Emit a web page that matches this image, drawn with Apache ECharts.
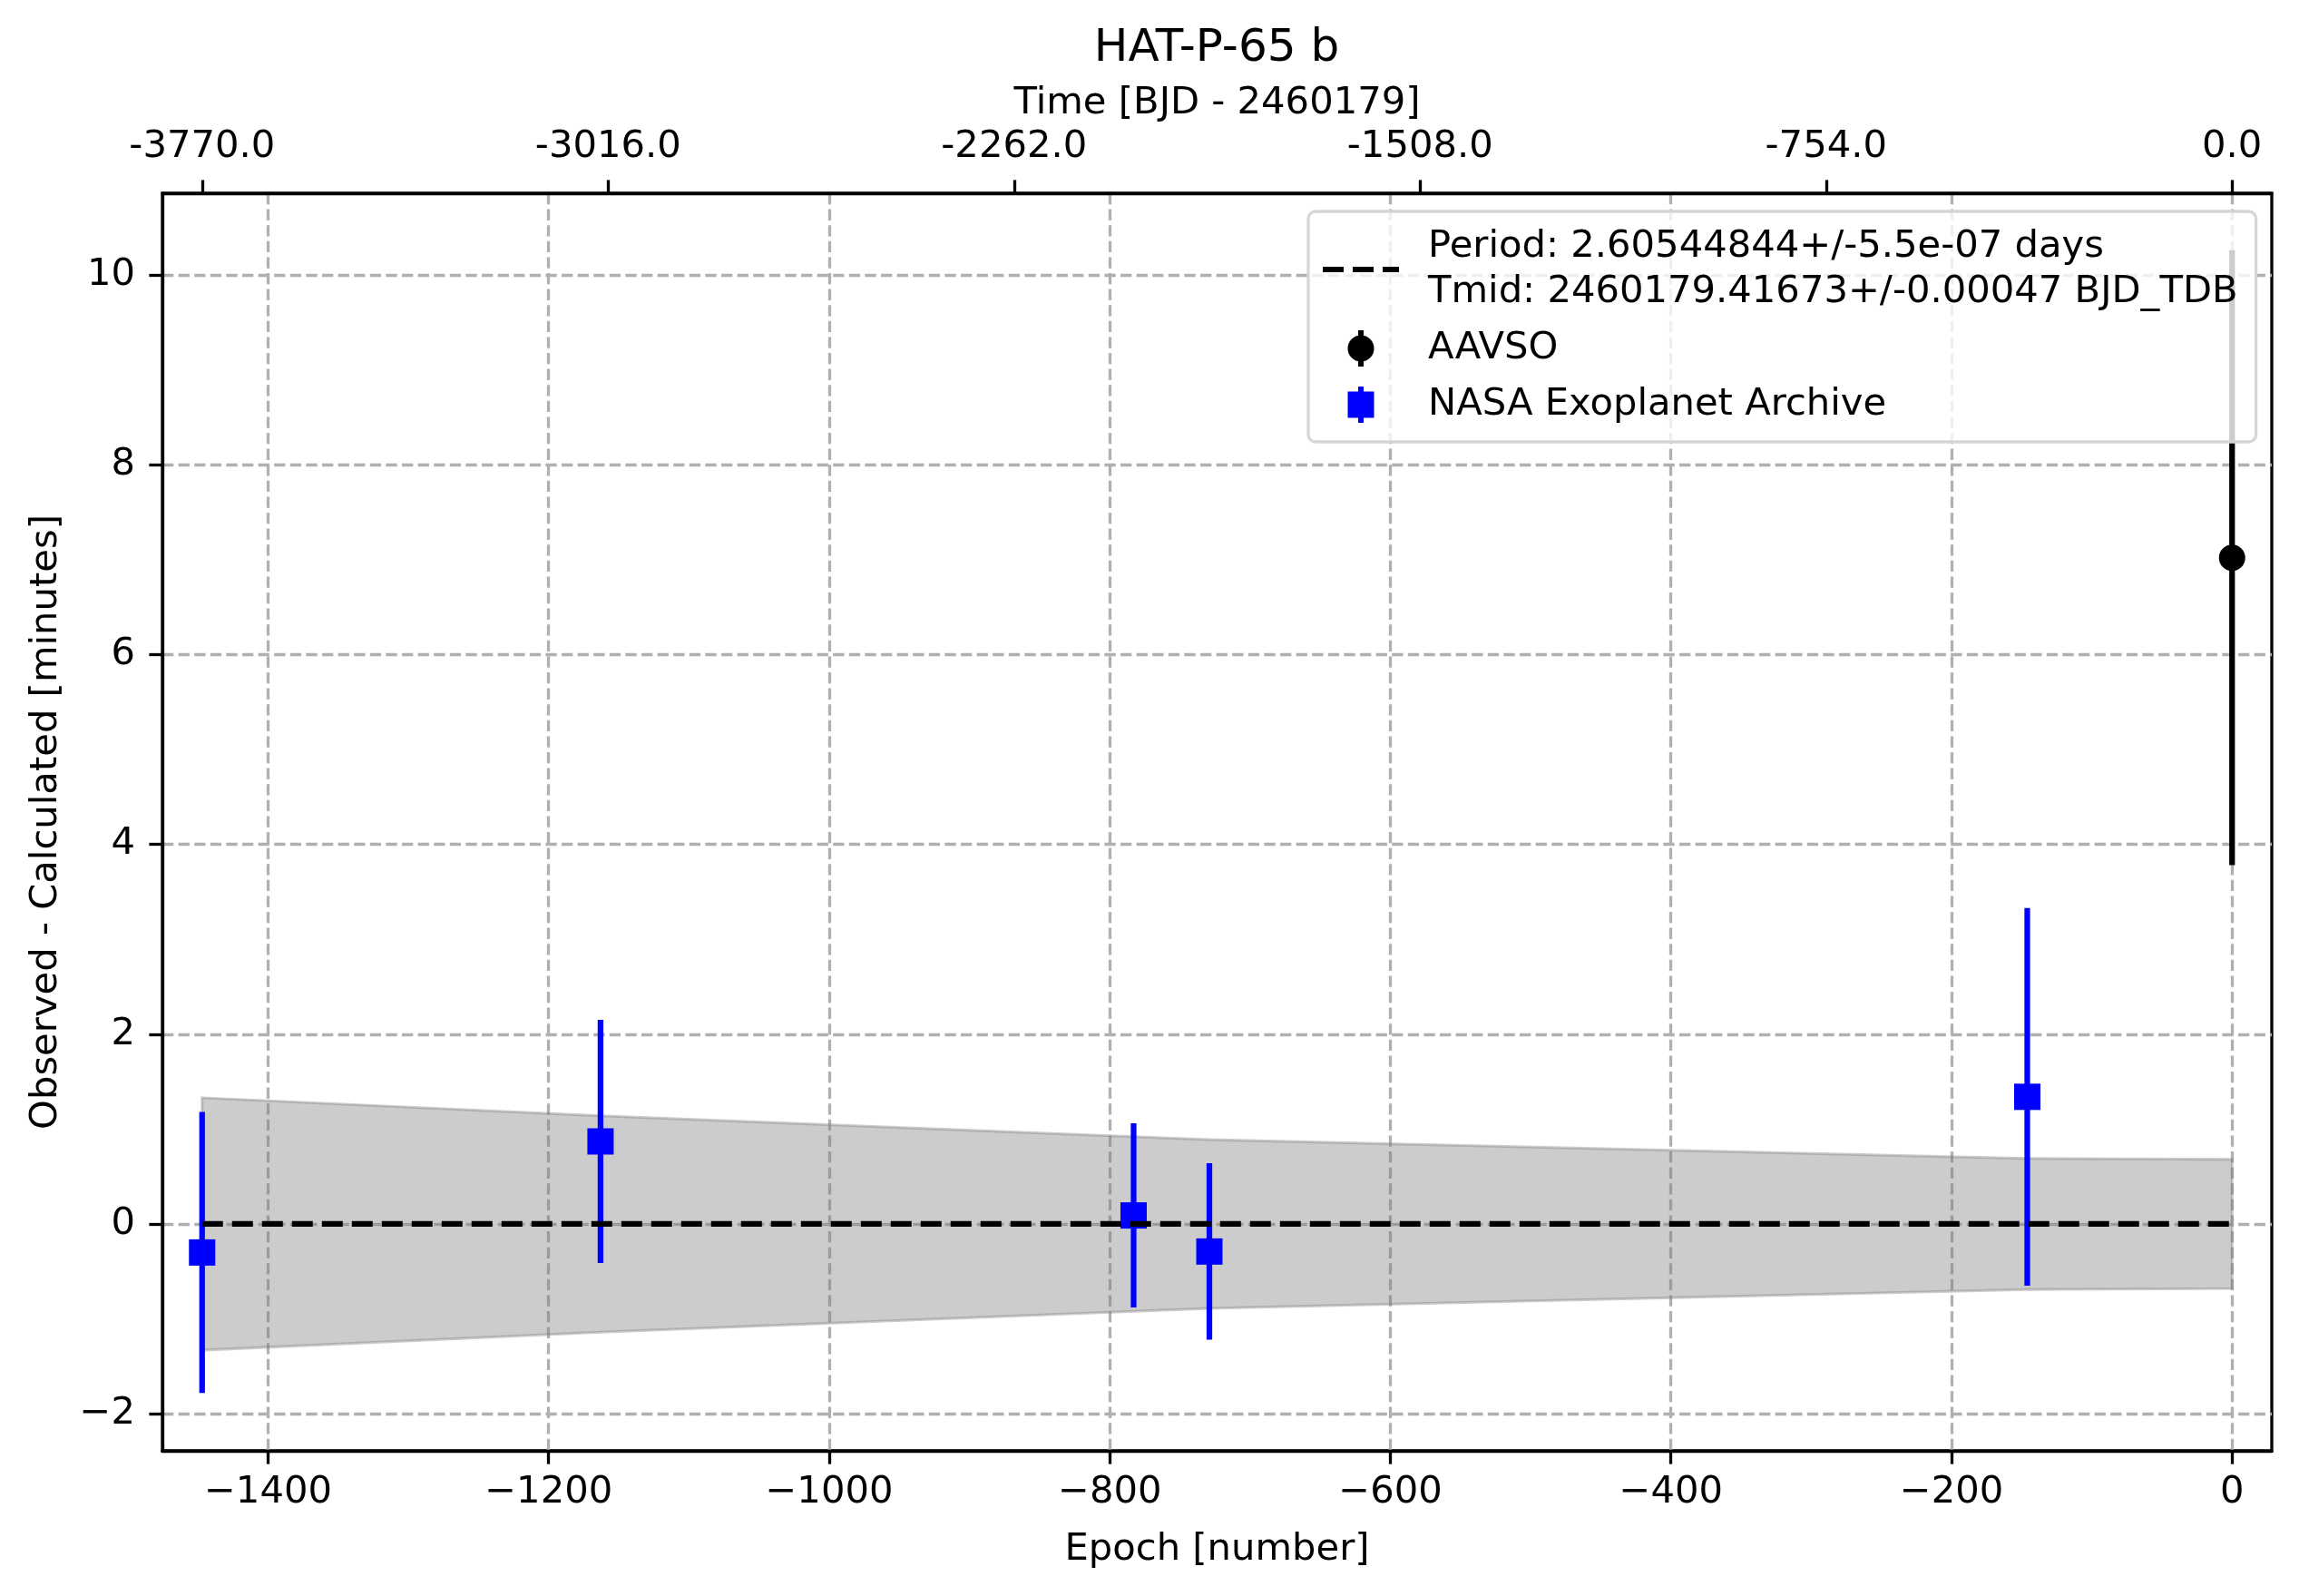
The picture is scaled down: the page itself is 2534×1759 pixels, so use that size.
<!DOCTYPE html>
<html>
<head>
<meta charset="utf-8">
<title>HAT-P-65 b</title>
<script src="https://cdn.jsdelivr.net/npm/echarts@6/dist/echarts.min.js"></script>
<style>
    html, body { margin: 0; padding: 0; background: #fff; }
    #main { width: 2534px; height: 1759px; }
</style>
</head>
<body>
<div id="main"></div>
<script>
// values
var period = 2.60544844; // days, for the top time axis
var nasaEpochs = [-1447, -1163, -783, -729, -146];
var nasaOC = [-0.30, 0.87, 0.09, -0.29, 1.34];
var nasaErr = [1.48, 1.28, 0.97, 0.93, 1.99];
var aavsoEpochs = [0];
var aavsoOC = [7.02];
var aavsoErr = [3.24];
// grey band = ephemeris uncertainty, edges read at each epoch
var bandEpochs = [-1447, -1163, -783, -729, -146, 0];
var bandUpper = [1.33, 1.14, 0.92, 0.89, 0.69, 0.68];
var bandLower = [-1.33, -1.14, -0.92, -0.89, -0.69, -0.68];
var fitOC = [0, 0, 0, 0, 0, 0];
var epochTicks = [-1400, -1200, -1000, -800, -600, -400, -200, 0];
var timeTicks = [-3770, -3016, -2262, -1508, -754, 0];
var ocTicks = [-2, 0, 2, 4, 6, 8, 10];
var epochRange = [-1475.3, 28.3];
var ocRange = [-2.39, 10.86];
var fitName = 'Period: 2.60544844+/-5.5e-07 days\nTmid: 2460179.41673+/-0.00047 BJD_TDB';

var font = 'DejaVu Sans';
var fs = 41.7;
var lw = 3.3;

function zip(xs, ys, es) {
    var out = [];
    for (var i = 0; i < xs.length; i++) {
        out.push(es ? [xs[i], ys[i], es[i]] : [xs[i], ys[i]]);
    }
    return out;
}

function minus(v) {
    return v < 0 ? '\u2212' + Math.abs(v) : String(v);
}

function errorBar(params, api) {
    var x = api.value(0), y = api.value(1), e = api.value(2);
    var p1 = api.coord([x, y + e]);
    var p2 = api.coord([x, y - e]);
    return {
        type: 'line',
        shape: { x1: p1[0], y1: p1[1], x2: p2[0], y2: p2[1] },
        style: { stroke: api.visual('color'), lineWidth: 6.25 }
    };
}

function band(params, api) {
    if (params.dataIndex !== 0) return null;
    var pts = [];
    for (var i = 0; i < bandEpochs.length; i++) pts.push(api.coord([bandEpochs[i], bandUpper[i]]));
    for (var j = bandEpochs.length - 1; j >= 0; j--) pts.push(api.coord([bandEpochs[j], bandLower[j]]));
    return {
        type: 'polygon',
        shape: { points: pts },
        style: { fill: 'rgba(128,128,128,0.4)', stroke: 'rgba(128,128,128,0.4)', lineWidth: 3 }
    };
}

var myChart = echarts.init(document.getElementById('main'));

var axisCommon = {
    axisLine: { onZero: false, lineStyle: { color: '#000', width: lw } },
    axisTick: { length: 14.6, lineStyle: { color: '#000', width: lw } },
    nameTextStyle: { fontFamily: font, fontSize: fs, color: '#000' }
};

var option = {
    backgroundColor: '#fff',
    animation: false,
    title: {
        text: 'HAT-P-65 b',
        left: 1336,
        top: 24,
        textAlign: 'center',
        textStyle: { fontFamily: font, fontSize: 50, fontWeight: 'normal', color: '#000' }
    },
    grid: {
        left: 179, right: 30, top: 213, bottom: 160,
        show: true, borderColor: '#000', borderWidth: lw
    },
    legend: {
        orient: 'vertical',
        left: 1442,
        top: 233,
        padding: [14, 20, 16, 16],
        itemGap: 12,
        itemWidth: 84,
        itemHeight: 40,
        selectedMode: false,
        backgroundColor: 'rgba(255,255,255,0.8)',
        borderColor: '#d6d6d6',
        borderWidth: lw,
        borderRadius: 8,
        textStyle: { fontFamily: font, fontSize: fs, lineHeight: 50, color: '#000', padding: [0, 0, 0, 27] },
        data: [
            {
                name: fitName,
                icon: 'path://M0,0h23v6h-23z M33,0h23v6h-23z M66,0h18v6h-18z',
                itemStyle: { color: '#000', borderWidth: 0 }
            },
            {
                name: 'AAVSO',
                icon: 'path://M11.5,0h6v40h-6z M0,20a14.5,14.5 0 1,1 29,0a14.5,14.5 0 1,1 -29,0z',
                itemStyle: { color: '#000', borderWidth: 0 }
            },
            {
                name: 'NASA Exoplanet Archive',
                icon: 'path://M0,5.5h29v29h-29z M11.5,0h6v40h-6z',
                itemStyle: { color: '#0000ff', borderWidth: 0 }
            }
        ]
    },
    xAxis: [
        Object.assign({}, axisCommon, {
            type: 'value',
            position: 'bottom',
            min: epochRange[0],
            max: epochRange[1],
            name: 'Epoch [number]',
            nameLocation: 'middle',
            nameGap: 88,
            axisTick: { customValues: epochTicks, length: 14.6, lineStyle: { color: '#000', width: lw } },
            axisLabel: {
                customValues: epochTicks, margin: 25, formatter: minus,
                fontFamily: font, fontSize: fs, color: '#000'
            },
            splitLine: { show: true, lineStyle: { color: '#b0b0b0', width: lw, type: [12.3, 5.3] } }
        }),
        Object.assign({}, axisCommon, {
            type: 'value',
            position: 'top',
            min: epochRange[0] * period,
            max: epochRange[1] * period,
            name: 'Time [BJD - 2460179]',
            nameLocation: 'middle',
            nameGap: 78,
            axisTick: { customValues: timeTicks, length: 14.6, lineStyle: { color: '#000', width: lw } },
            axisLabel: {
                customValues: timeTicks, margin: 30,
                formatter: function (v) { return v.toFixed(1); },
                fontFamily: font, fontSize: fs, color: '#000'
            },
            splitLine: { show: false }
        })
    ],
    yAxis: Object.assign({}, axisCommon, {
        type: 'value',
        min: ocRange[0],
        max: ocRange[1],
        name: 'Observed - Calculated [minutes]',
        nameLocation: 'middle',
        nameGap: 107,
        axisTick: { customValues: ocTicks, length: 14.6, lineStyle: { color: '#000', width: lw } },
        axisLabel: {
            customValues: ocTicks, margin: 30, formatter: minus,
            fontFamily: font, fontSize: fs, color: '#000'
        },
        splitLine: { show: true, lineStyle: { color: '#b0b0b0', width: lw, type: [12.3, 5.3] } }
    }),
    series: [
        {
            type: 'custom',
            name: 'band',
            renderItem: band,
            data: zip(bandEpochs, bandUpper, bandLower),
            encode: { x: 0, y: 1 },
            silent: true,
            z: 1
        },
        {
            type: 'custom',
            name: 'AAVSO',
            renderItem: errorBar,
            data: zip(aavsoEpochs, aavsoOC, aavsoErr),
            encode: { x: 0, y: 1 },
            itemStyle: { color: '#000' },
            z: 2
        },
        {
            type: 'scatter',
            name: 'AAVSO',
            data: zip(aavsoEpochs, aavsoOC),
            symbol: 'circle',
            symbolSize: 29,
            itemStyle: { color: '#000', opacity: 1 },
            z: 3
        },
        {
            type: 'custom',
            name: 'NASA Exoplanet Archive',
            renderItem: errorBar,
            data: zip(nasaEpochs, nasaOC, nasaErr),
            encode: { x: 0, y: 1 },
            itemStyle: { color: '#0000ff' },
            z: 2
        },
        {
            type: 'scatter',
            name: 'NASA Exoplanet Archive',
            data: zip(nasaEpochs, nasaOC),
            symbol: 'rect',
            symbolSize: 29,
            itemStyle: { color: '#0000ff', opacity: 1 },
            z: 3
        },
        {
            type: 'line',
            name: fitName,
            data: zip(bandEpochs, fitOC),
            showSymbol: false,
            symbol: 'none',
            lineStyle: { color: '#000', width: 6.25, type: [23, 10] },
            itemStyle: { color: '#000' },
            z: 4
        }
    ]
};

myChart.setOption(option);
</script>
</body>
</html>
